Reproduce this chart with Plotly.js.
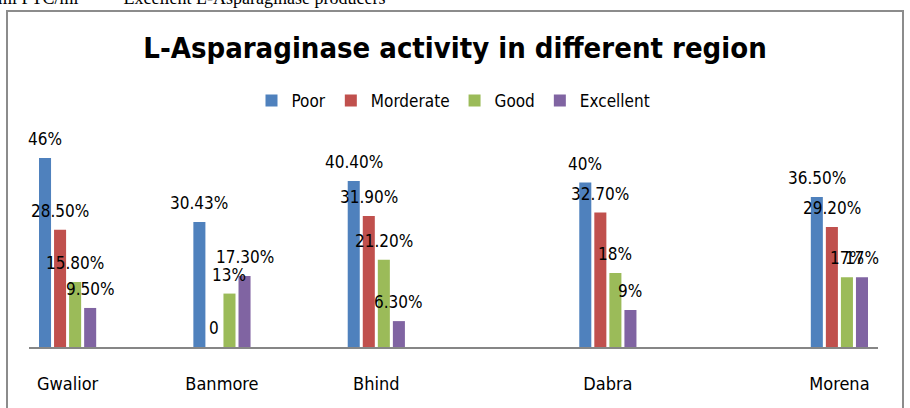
<!DOCTYPE html>
<html>
<head>
<meta charset="utf-8">
<script src="https://cdn.plot.ly/plotly-3.0.1.min.js"></script>
<style>
html,body{margin:0;padding:0;background:#fff;}
#chart{width:910px;height:408px;}
</style>
</head>
<body>
<div id="chart"></div>
<script>
// ---- data ----
const regions = ['Gwalior', 'Banmore', 'Bhind', 'Dabra', 'Morena'];
const seriesNames = ['Poor', 'Morderate', 'Good', 'Excellent'];
const poor = [46, 30.43, 40.4, 40, 36.5];
const moderate = [28.5, 0, 31.9, 32.7, 29.2];
const good = [15.8, 13, 21.2, 18, 17];
const excellent = [9.5, 17.3, 6.3, 9, 17];
const poorLabels = ['46%', '30.43%', '40.40%', '40%', '36.50%'];
const moderateLabels = ['28.50%', '0', '31.90%', '32.70%', '29.20%'];
const goodLabels = ['15.80%', '13%', '21.20%', '18%', '17%'];
const excellentLabels = ['9.50%', '17.30%', '6.30%', '9%', '17%'];
// category slots of the original (blank slots between regions)
const axisSlots = ['Gwalior', ' ', 'Banmore', '  ', 'Bhind', '   ', '    ', 'Dabra', '     ', '      ', 'Morena'];

const colors = ['#4F81BD', '#C0504D', '#9BBB59', '#8064A2'];
const values = [poor, moderate, good, excellent];
const labels = [poorLabels, moderateLabels, goodLabels, excellentLabels];

const W = 910, H = 408;
const M = {l: 29, r: 32, t: 130, b: 61};
const plotW = W - M.l - M.r, plotH = H - M.t - M.b;
const bargap = 0.22, bargroupgap = 0.2;
const slotW = plotW / axisSlots.length;
const subW = slotW * (1 - bargap) / seriesNames.length;
const yMax = 52.8;
const labelFont = {family: 'DejaVu Sans Condensed, DejaVu Sans', size: 17, color: '#000'};

const traces = seriesNames.map((name, i) => ({
  type: 'bar',
  name: name,
  x: regions,
  y: values[i],
  marker: {color: colors[i]},
  hoverinfo: 'skip'
}));

const annotations = [];
seriesNames.forEach((name, i) => {
  regions.forEach((r, j) => {
    annotations.push({
      x: r, y: values[i][j], xref: 'x', yref: 'y',
      text: labels[i][j], showarrow: false,
      xanchor: 'center', yanchor: 'middle',
      xshift: (i - (seriesNames.length - 1) / 2) * subW,
      yshift: 19,
      font: labelFont
    });
  });
});
// cut-off document text above the chart
annotations.push({
  xref: 'paper', yref: 'paper',
  x: (-4 - M.l) / plotW, y: (H - M.b - 10) / plotH,
  xanchor: 'left', yanchor: 'bottom',
  text: 'ml PTC/ml   —   Excellent L-Asparaginase producers',
  showarrow: false,
  font: {family: 'Liberation Serif, Times New Roman, serif', size: 18, color: '#000'}
});

const layout = {
  width: W, height: H,
  margin: M,
  paper_bgcolor: 'rgba(0,0,0,0)',
  plot_bgcolor: 'rgba(0,0,0,0)',
  barmode: 'group',
  bargap: bargap,
  bargroupgap: bargroupgap,
  title: {
    text: '<b>L-Asparaginase activity in different region</b>',
    font: {family: 'DejaVu Sans Condensed, DejaVu Sans', size: 29, color: '#000'},
    x: 0.5, xanchor: 'center', xref: 'container',
    y: 1 - 48 / H, yanchor: 'middle', yref: 'container'
  },
  showlegend: true,
  legend: {
    orientation: 'h',
    x: 0.5, xanchor: 'center',
    y: 1 + 29 / plotH, yanchor: 'middle',
    font: {family: 'DejaVu Sans Condensed, DejaVu Sans', size: 17, color: '#000'},
    bgcolor: 'rgba(0,0,0,0)',
    traceorder: 'normal'
  },
  xaxis: {
    type: 'category',
    categoryorder: 'array',
    categoryarray: axisSlots,
    range: [-0.5, axisSlots.length - 0.5],
    showline: true, linecolor: '#868686', linewidth: 1.5,
    showgrid: false, zeroline: false,
    ticks: 'outside', ticklen: 20, tickcolor: 'rgba(0,0,0,0)',
    tickfont: {family: 'DejaVu Sans Condensed, DejaVu Sans', size: 18, color: '#000'},
    fixedrange: true
  },
  yaxis: {
    range: [0, yMax],
    visible: false,
    showgrid: false, zeroline: false,
    fixedrange: true
  },
  annotations: annotations,
  shapes: [{
    type: 'rect', xref: 'paper', yref: 'paper',
    x0: (7 - M.l) / plotW, x1: (903 - M.l) / plotW,
    y0: (H - M.b - 11) / plotH, y1: (H - M.b - 440) / plotH,
    line: {color: '#8c8c8c', width: 2},
    fillcolor: 'rgba(0,0,0,0)',
    layer: 'below'
  }]
};

Plotly.newPlot('chart', traces, layout, {staticPlot: true, displayModeBar: false});
</script>
</body>
</html>
